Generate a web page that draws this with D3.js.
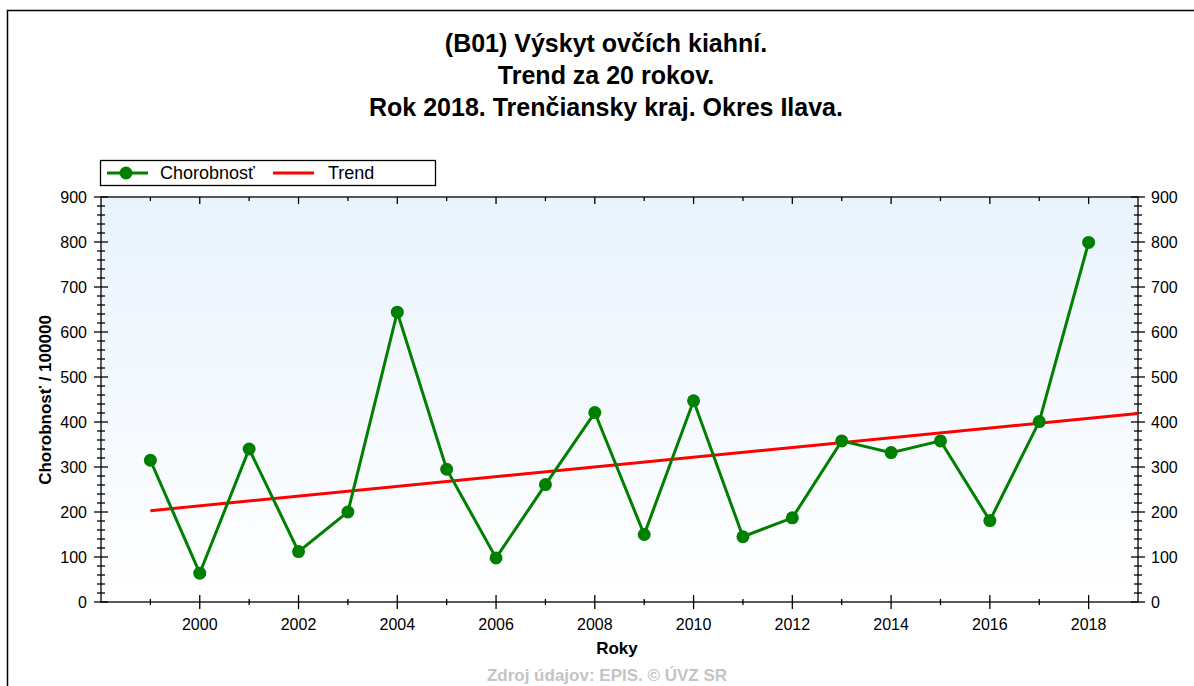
<!DOCTYPE html>
<html>
<head>
<meta charset="utf-8">
<script src="https://cdn.jsdelivr.net/npm/d3@7"></script>
<style>
  body { margin: 0; background: #fff; }
  text { font-family: "Liberation Sans", Arial, sans-serif; }
</style>
</head>
<body>
<div id="chart"></div>
<script>
// data
const years = [1999, 2000, 2001, 2002, 2003, 2004, 2005, 2006, 2007, 2008,
  2009, 2010, 2011, 2012, 2013, 2014, 2015, 2016, 2017, 2018];
const chorobnost = [315, 64, 340, 112, 200, 644, 295, 98, 261, 421,
  150, 447, 145, 187, 358, 332, 358, 181, 401, 799];
// trend line end points (linear fit, drawn out to the right edge)
const trendYears = [1999, 2019];
const trendValues = [203, 419];
const titleLines = [
  "(B01) Výskyt ovčích kiahní.",
  "Trend za 20 rokov.",
  "Rok 2018. Trenčiansky kraj. Okres Ilava.",
];
const legendNames = ["Chorobnosť", "Trend"];

const config = {
  width: 1194,
  height: 686,
  plot: { left: 101, right: 1138, top: 197, bottom: 602 },
};

const svg = d3
  .select("#chart")
  .append("svg")
  .attr("width", config.width)
  .attr("height", config.height);

// outer frame (runs off the right / bottom edge like the original)
svg
  .append("rect")
  .attr("x", 7.5)
  .attr("y", 10.5)
  .attr("width", 1200)
  .attr("height", 700)
  .attr("fill", "#fff")
  .attr("stroke", "#000")
  .attr("stroke-width", 1.5);

// titles
svg
  .selectAll("text.title")
  .data(titleLines)
  .join("text")
  .attr("class", "title")
  .attr("x", 606)
  .attr("y", (d, i) => 52 + i * 32)
  .attr("text-anchor", "middle")
  .style("font-size", "25px")
  .style("font-weight", "bold")
  .text((d) => d);

const p = config.plot;

const x = d3.scaleLinear().domain([1998, 2019]).range([p.left, p.right]);
const y = d3.scaleLinear().domain([0, 900]).range([p.bottom, p.top]);

// plot background gradient
const grad = svg
  .append("defs")
  .append("linearGradient")
  .attr("id", "bg")
  .attr("x1", 0)
  .attr("y1", 0)
  .attr("x2", 0)
  .attr("y2", 1);
grad.append("stop").attr("offset", "0%").attr("stop-color", "#e9f3fd");
grad.append("stop").attr("offset", "100%").attr("stop-color", "#ffffff");

svg
  .append("rect")
  .attr("x", p.left)
  .attr("y", p.top)
  .attr("width", p.right - p.left)
  .attr("height", p.bottom - p.top)
  .attr("fill", "url(#bg)");

// frame lines of the plot
svg
  .append("rect")
  .attr("x", p.left)
  .attr("y", p.top)
  .attr("width", p.right - p.left)
  .attr("height", p.bottom - p.top)
  .attr("fill", "none")
  .attr("stroke", "#000")
  .attr("stroke-width", 1.3);

const majorY = d3.range(0, 901, 100);
const minorY = d3.range(0, 901, 20).filter((v) => v % 100 !== 0);
const majorX = d3.range(2000, 2019, 2);
const minorX = d3.range(1999, 2019, 2);

const ticks = svg.append("g").attr("stroke", "#000").attr("stroke-width", 1.3);

// left and right axes: ticks cross the axis line
[p.left, p.right].forEach((ax) => {
  ticks
    .selectAll(null)
    .data(majorY)
    .join("line")
    .attr("x1", ax - 7)
    .attr("x2", ax + 7)
    .attr("y1", (d) => y(d))
    .attr("y2", (d) => y(d));
  ticks
    .selectAll(null)
    .data(minorY)
    .join("line")
    .attr("x1", ax - 4)
    .attr("x2", ax + 4)
    .attr("y1", (d) => y(d))
    .attr("y2", (d) => y(d));
});

// bottom axis
ticks
  .selectAll(null)
  .data(majorX)
  .join("line")
  .attr("x1", (d) => x(d))
  .attr("x2", (d) => x(d))
  .attr("y1", p.bottom - 7)
  .attr("y2", p.bottom + 7);
ticks
  .selectAll(null)
  .data(minorX)
  .join("line")
  .attr("x1", (d) => x(d))
  .attr("x2", (d) => x(d))
  .attr("y1", p.bottom - 3)
  .attr("y2", p.bottom + 3);

// top axis, ticks only inward
ticks
  .selectAll(null)
  .data(majorX)
  .join("line")
  .attr("x1", (d) => x(d))
  .attr("x2", (d) => x(d))
  .attr("y1", p.top)
  .attr("y2", p.top + 7);
ticks
  .selectAll(null)
  .data(minorX)
  .join("line")
  .attr("x1", (d) => x(d))
  .attr("x2", (d) => x(d))
  .attr("y1", p.top)
  .attr("y2", p.top + 4);

// tick labels
const labels = svg.append("g").style("font-size", "16px");
labels
  .selectAll(null)
  .data(majorY)
  .join("text")
  .attr("x", p.left - 14)
  .attr("y", (d) => y(d) + 6)
  .attr("text-anchor", "end")
  .text((d) => d);
labels
  .selectAll(null)
  .data(majorY)
  .join("text")
  .attr("x", p.right + 13)
  .attr("y", (d) => y(d) + 6)
  .attr("text-anchor", "start")
  .text((d) => d);
labels
  .selectAll(null)
  .data(majorX)
  .join("text")
  .attr("x", (d) => x(d))
  .attr("y", p.bottom + 28)
  .attr("text-anchor", "middle")
  .text((d) => d);

// axis titles
svg
  .append("text")
  .attr("x", 617)
  .attr("y", 654)
  .attr("text-anchor", "middle")
  .style("font-size", "17px")
  .style("font-weight", "bold")
  .text("Roky");

svg
  .append("text")
  .attr("transform", "translate(51, 400) rotate(-90)")
  .attr("text-anchor", "middle")
  .style("font-size", "17px")
  .style("font-weight", "bold")
  .text("Chorobnosť / 100000");

// footer
svg
  .append("text")
  .attr("x", 607)
  .attr("y", 681)
  .attr("text-anchor", "middle")
  .style("font-size", "17px")
  .style("font-weight", "bold")
  .attr("fill", "#c4c4c4")
  .text("Zdroj údajov: EPIS. © ÚVZ SR");

// trend
const line = d3
  .line()
  .x((d) => x(d[0]))
  .y((d) => y(d[1]));

svg
  .append("path")
  .datum(d3.zip(trendYears, trendValues))
  .attr("d", line)
  .attr("fill", "none")
  .attr("stroke", "#ff0000")
  .attr("stroke-width", 3);

// chorobnost series
const series = d3.zip(years, chorobnost);
svg
  .append("path")
  .datum(series)
  .attr("d", line)
  .attr("fill", "none")
  .attr("stroke", "#007f00")
  .attr("stroke-width", 3);

svg
  .selectAll("circle.pt")
  .data(series)
  .join("circle")
  .attr("class", "pt")
  .attr("cx", (d) => x(d[0]))
  .attr("cy", (d) => y(d[1]))
  .attr("r", 6.5)
  .attr("fill", "#007f00");

// legend
const legend = svg.append("g");
legend
  .append("rect")
  .attr("x", 100.5)
  .attr("y", 160.5)
  .attr("width", 335)
  .attr("height", 25)
  .attr("fill", "#fff")
  .attr("stroke", "#000")
  .attr("stroke-width", 1.3);
legend
  .append("line")
  .attr("x1", 107)
  .attr("x2", 148)
  .attr("y1", 173)
  .attr("y2", 173)
  .attr("stroke", "#007f00")
  .attr("stroke-width", 3);
legend
  .append("circle")
  .attr("cx", 126)
  .attr("cy", 173)
  .attr("r", 6.5)
  .attr("fill", "#007f00");
legend
  .append("line")
  .attr("x1", 273)
  .attr("x2", 314)
  .attr("y1", 173)
  .attr("y2", 173)
  .attr("stroke", "#ff0000")
  .attr("stroke-width", 3);
legend
  .selectAll("text")
  .data(legendNames)
  .join("text")
  .attr("x", (d, i) => (i === 0 ? 160 : 328))
  .attr("y", 179)
  .style("font-size", "18px")
  .text((d) => d);
</script>
</body>
</html>
